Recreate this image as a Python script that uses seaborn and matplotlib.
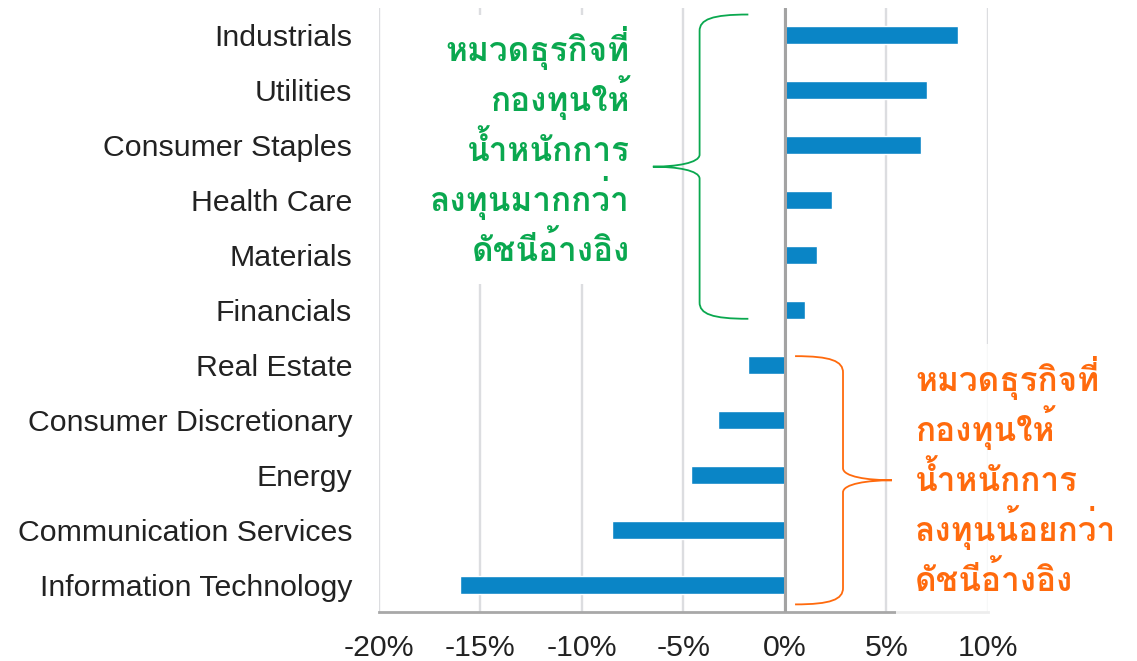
import matplotlib
matplotlib.use("Agg")
import matplotlib.pyplot as plt
import seaborn as sns
import pandas as pd
from matplotlib.path import Path
from matplotlib.patches import PathPatch, Rectangle
from matplotlib.ticker import FuncFormatter

sectors = ["Industrials", "Utilities", "Consumer Staples", "Health Care", "Materials",
           "Financials", "Real Estate", "Consumer Discretionary", "Energy",
           "Communication Services", "Information Technology"]
active_weight = [8.5, 7.0, 6.7, 2.3, 1.6, 1.0, -1.8, -3.3, -4.6, -8.5, -16.0]

over_lines = ["หมวดธุรกิจที่", "กองทุนให้", "น้ำหนักการ", "ลงทุนมากกว่า", "ดัชนีอ้างอิง"]
under_lines = ["หมวดธุรกิจที่", "กองทุนให้", "น้ำหนักการ", "ลงทุนน้อยกว่า", "ดัชนีอ้างอิง"]

BLUE = "#0a85c6"
GREEN = "#0aa84f"
ORANGE = "#ff6a0d"
# Loma puts tone marks above the upper vowels without shaping, so ที่ / น้ำ come out right
THAI = ["Loma", "DejaVu Sans"]

sns.set_theme(style="white")
plt.rcParams["font.family"] = ["Liberation Sans", "DejaVu Sans"]

df = pd.DataFrame({"sector": sectors, "weight": active_weight})

fig = plt.figure(figsize=(11.37, 6.61), dpi=100)
ax = fig.add_axes([0.333, 0.074, 0.536, 0.914])

sns.barplot(data=df, x="weight", y="sector", orient="h", color=BLUE,
            width=0.33, saturation=1, ax=ax, zorder=4)

ax.set_xlim(-20, 10)
ax.set_ylim(10.5, -0.5)
ax.set_xticks(range(-20, 11, 5))
ax.xaxis.set_major_formatter(FuncFormatter(lambda v, p: f"{v:.0f}%"))
ax.grid(axis="x", color="#dcdde0", linewidth=1.7, zorder=0)
ax.grid(axis="y", visible=False)
ax.set_axisbelow(True)
ax.axvline(0, color="#a3a3a3", linewidth=2.2, zorder=5)
ax.set_xlabel("")
ax.set_ylabel("")
ax.tick_params(axis="both", length=0, labelsize=21.8, labelcolor="#222222")
ax.tick_params(axis="x", pad=16)
ax.tick_params(axis="y", pad=19)
for s in ["top", "right", "left"]:
    ax.spines[s].set_visible(False)
ax.spines["bottom"].set_color("#a8a8a8")
ax.spines["bottom"].set_linewidth(2)

# white panels behind the notes
ax.add_patch(Rectangle((-17.6, -0.38), 11.0, 4.91, facecolor="white",
                       edgecolor="none", zorder=3))
ax.add_patch(Rectangle((5.45, 5.62), 15, 5.0, facecolor="white", alpha=0.8,
                       edgecolor="none", zorder=6, clip_on=False))


def brace(x_end, x_spine, x_tip, y_top, y_bot, color):
    y_mid = (y_top + y_bot) / 2
    c = 0.3
    t = 0.22
    verts = [
        (x_end, y_top),
        (x_spine + (x_end - x_spine) * 0.25, y_top), (x_spine, y_top + c * 0.3), (x_spine, y_top + c),
        (x_spine, y_mid - t),
        (x_spine, y_mid - t * 0.3), (x_spine + (x_tip - x_spine) * 0.5, y_mid), (x_tip, y_mid),
        (x_spine + (x_tip - x_spine) * 0.5, y_mid), (x_spine, y_mid + t * 0.3), (x_spine, y_mid + t),
        (x_spine, y_bot - c),
        (x_spine, y_bot - c * 0.3), (x_spine + (x_end - x_spine) * 0.25, y_bot), (x_end, y_bot),
    ]
    codes = [Path.MOVETO,
             Path.CURVE4, Path.CURVE4, Path.CURVE4,
             Path.LINETO,
             Path.CURVE4, Path.CURVE4, Path.CURVE4,
             Path.CURVE4, Path.CURVE4, Path.CURVE4,
             Path.LINETO,
             Path.CURVE4, Path.CURVE4, Path.CURVE4]
    ax.add_patch(PathPatch(Path(verts, codes), facecolor="none", edgecolor=color,
                           linewidth=1.3, zorder=7, clip_on=False))


brace(-1.8, -4.2, -6.5, -0.38, 5.16, GREEN)
brace(0.5, 2.86, 5.27, 5.84, 10.36, ORANGE)

for i, line in enumerate(over_lines):
    ax.text(-7.64, 0.47 + 0.91 * i, line, color=GREEN, fontsize=24, family=THAI,
            weight="bold", ha="right", va="baseline", zorder=8)
for i, line in enumerate(under_lines):
    ax.text(6.4, 6.47 + 0.91 * i, line, color=ORANGE, fontsize=24, family=THAI,
            weight="bold", ha="left", va="baseline", zorder=8, clip_on=False)

fig.savefig("out.png", dpi=100)
